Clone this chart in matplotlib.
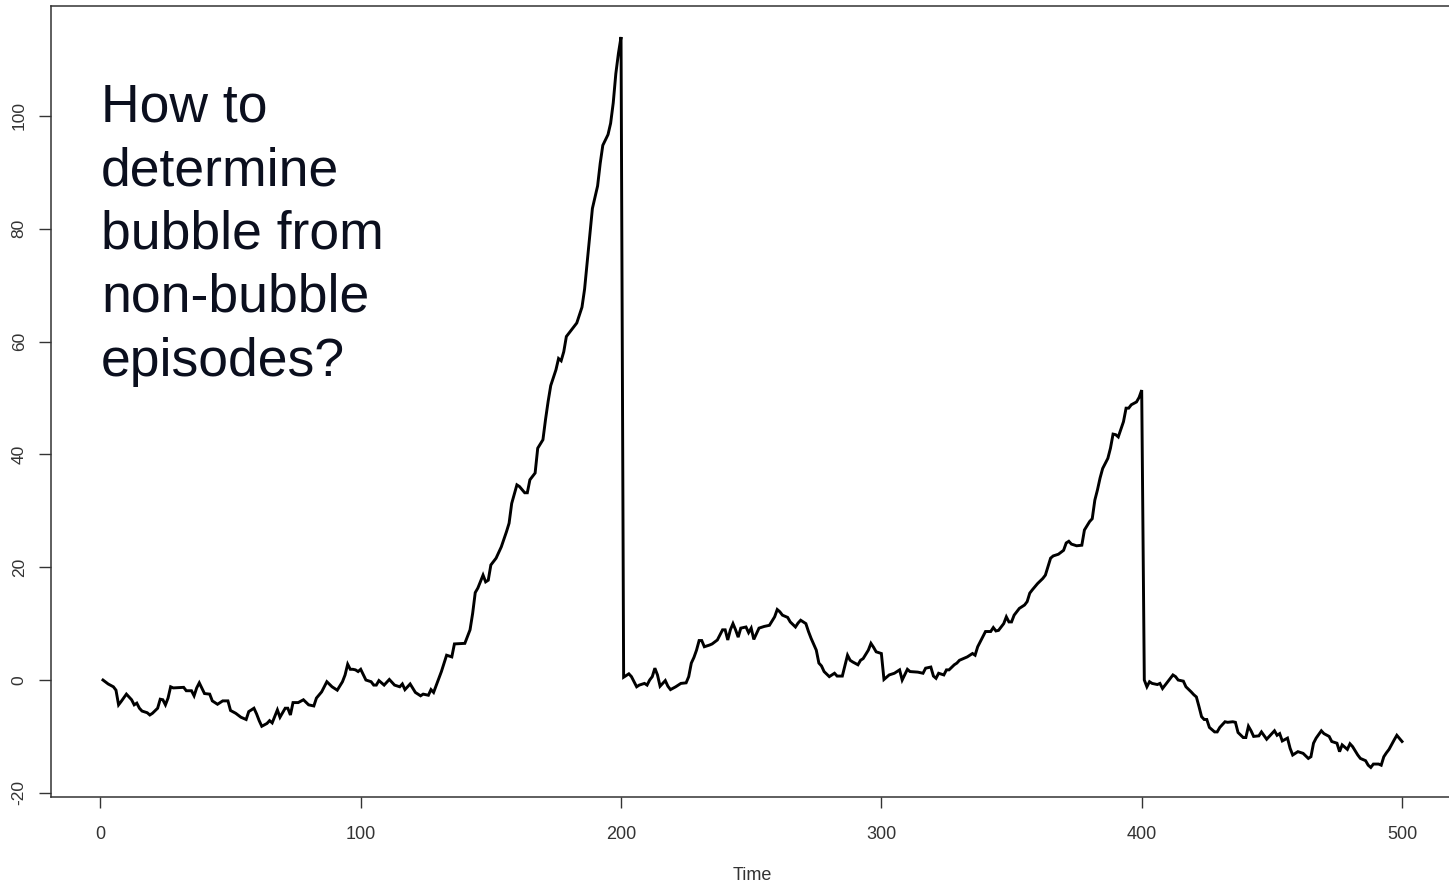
import matplotlib
matplotlib.use("Agg")
import matplotlib.pyplot as plt

plt.rcParams['font.family'] = ['Liberation Sans', 'DejaVu Sans']
plt.rcParams['axes.unicode_minus'] = False

# ---- data (time, value) ----
time = [1, 3, 5, 6, 7, 8, 10, 12, 13, 14, 15, 16, 18, 19, 20, 22, 23, 24, 25, 26,
        27, 28, 32, 33, 35, 36, 37, 38, 40, 42, 43, 45, 47, 49, 50, 52, 54, 56, 57, 59,
        60, 61, 62, 64, 65, 66, 68, 69, 71, 72, 73, 74, 76, 78, 80, 82, 83, 85, 87, 89,
        91, 93, 94, 95, 96, 97, 98, 99, 100, 102, 104, 105, 106, 107, 109, 111, 113, 115, 116, 117,
        119, 121, 123, 124, 126, 127, 128, 130, 131, 133, 135, 136, 140, 142, 143, 144, 145, 147, 148, 149,
        150, 152, 154, 156, 157, 158, 160, 161, 163, 164, 165, 167, 168, 170, 171, 172, 173, 175, 176, 177,
        178, 179, 181, 183, 185, 186, 187, 188, 189, 191, 192, 193, 195, 196, 197, 198, 199, 200, 201, 203,
        204, 206, 207, 209, 210, 211, 212, 213, 214, 215, 216, 217, 218, 219, 221, 222, 223, 225, 226, 227,
        228, 229, 230, 231, 232, 234, 235, 237, 238, 239, 240, 241, 242, 243, 244, 245, 246, 248, 249, 250,
        251, 253, 255, 257, 259, 260, 261, 262, 264, 265, 267, 268, 269, 271, 272, 273, 275, 276, 277, 278,
        280, 282, 283, 285, 287, 288, 289, 291, 292, 293, 295, 296, 297, 298, 300, 301, 303, 305, 306, 307,
        308, 310, 311, 314, 316, 317, 319, 320, 321, 322, 324, 325, 326, 328, 329, 330, 333, 335, 336, 337,
        339, 340, 342, 343, 344, 345, 347, 348, 349, 350, 351, 353, 355, 356, 357, 358, 360, 362, 363, 364,
        365, 366, 368, 370, 371, 372, 373, 375, 377, 378, 380, 381, 382, 383, 384, 385, 387, 388, 389, 390,
        391, 393, 394, 395, 396, 398, 399, 400, 401, 402, 403, 404, 406, 407, 408, 410, 412, 413, 414, 416,
        417, 419, 420, 421, 422, 423, 424, 425, 426, 428, 429, 430, 432, 433, 435, 436, 437, 439, 440, 441,
        442, 443, 445, 446, 448, 449, 451, 452, 453, 454, 456, 457, 458, 460, 462, 464, 465, 466, 467, 469,
        470, 472, 473, 475, 476, 477, 479, 480, 481, 483, 484, 486, 487, 488, 489, 491, 492, 493, 494, 495,
        497, 498, 500]

value = [0.0, -0.7, -1.2, -1.8, -4.4, -3.8, -2.5, -3.5, -4.4, -4.1, -5.0, -5.5, -5.8, -6.2, -5.9, -5.0, -3.4, -3.5, -4.4, -3.2,
         -1.2, -1.4, -1.3, -1.9, -1.9, -2.8, -1.4, -0.5, -2.4, -2.5, -3.7, -4.3, -3.7, -3.7, -5.4, -5.9, -6.6, -7.0, -5.6, -5.0,
         -6.0, -7.2, -8.2, -7.7, -7.2, -7.6, -5.3, -6.6, -5.0, -5.0, -6.2, -4.0, -4.0, -3.5, -4.4, -4.6, -3.2, -2.1, -0.3, -1.2,
         -1.8, -0.3, 0.9, 2.8, 1.9, 1.9, 1.8, 1.5, 1.9, 0.0, -0.3, -0.9, -0.9, -0.1, -0.9, 0.1, -0.9, -1.2, -0.7, -1.7,
         -0.7, -2.2, -2.8, -2.5, -2.7, -1.7, -2.2, 0.3, 1.5, 4.4, 4.1, 6.4, 6.5, 8.9, 11.8, 15.5, 16.3, 18.6, 17.4, 17.7,
         20.4, 21.6, 23.6, 26.3, 27.8, 31.3, 34.6, 34.3, 33.2, 33.2, 35.5, 36.7, 41.1, 42.6, 46.2, 49.4, 52.2, 55.0, 57.0, 56.6,
         58.2, 60.9, 62.1, 63.3, 66.1, 69.3, 74.1, 78.8, 83.6, 87.6, 91.6, 94.8, 96.7, 98.7, 102.3, 107.5, 111.1, 114.0, 0.5, 1.1,
         0.6, -1.2, -0.9, -0.6, -0.9, 0.0, 0.6, 2.1, 0.9, -1.1, -0.6, -0.1, -1.1, -1.7, -1.2, -0.9, -0.6, -0.5, 0.6, 3.0,
         4.0, 5.3, 7.0, 7.0, 5.9, 6.2, 6.4, 7.1, 8.0, 8.9, 8.9, 7.1, 8.9, 10.0, 8.9, 7.6, 9.2, 9.4, 8.4, 9.2,
         7.2, 9.2, 9.5, 9.7, 11.2, 12.5, 12.1, 11.5, 11.1, 10.3, 9.4, 10.1, 10.6, 10.0, 8.6, 7.4, 5.3, 3.0, 2.5, 1.5,
         0.6, 1.2, 0.7, 0.7, 4.4, 3.5, 3.2, 2.7, 3.5, 3.8, 5.3, 6.5, 5.8, 5.0, 4.7, 0.1, 0.9, 1.2, 1.5, 1.8,
         0.0, 1.9, 1.5, 1.4, 1.2, 2.1, 2.3, 0.7, 0.3, 1.2, 0.9, 1.8, 1.8, 2.7, 3.0, 3.5, 4.1, 4.7, 4.4, 5.9,
         7.7, 8.6, 8.6, 9.3, 8.7, 8.8, 10.0, 11.2, 10.3, 10.3, 11.5, 12.7, 13.3, 13.9, 15.4, 16.0, 17.1, 18.0, 18.6, 20.1,
         21.6, 22.0, 22.3, 23.0, 24.3, 24.6, 24.1, 23.8, 23.9, 26.6, 28.1, 28.6, 31.9, 33.7, 35.8, 37.5, 39.3, 41.1, 43.6, 43.5,
         43.1, 45.8, 48.2, 48.2, 48.8, 49.3, 50.1, 51.4, 0.0, -1.2, -0.3, -0.6, -0.8, -0.6, -1.5, -0.3, 0.9, 0.6, 0.0, -0.2,
         -1.2, -2.1, -2.6, -3.0, -4.7, -6.5, -7.0, -7.0, -8.4, -9.2, -9.2, -8.4, -7.4, -7.5, -7.4, -7.5, -9.3, -10.2, -10.2, -8.2,
         -9.0, -10.0, -9.9, -9.2, -10.5, -10.0, -9.0, -9.8, -9.5, -10.8, -10.3, -12.1, -13.3, -12.7, -13.0, -13.9, -13.6, -11.2, -10.3, -9.0,
         -9.5, -10.0, -10.9, -11.2, -12.7, -11.5, -12.3, -11.3, -11.8, -13.3, -13.9, -14.3, -15.1, -15.5, -14.9, -14.9, -15.1, -13.6, -12.9, -12.3,
         -10.6, -9.8, -10.9]

x_ticks = [0, 100, 200, 300, 400, 500]
y_ticks = [-20, 0, 20, 40, 60, 80, 100]
x_label = "Time"
annotation_lines = ["How to", "determine", "bubble from", "non-bubble", "episodes?"]

W, H = 1449, 886
fig = plt.figure(figsize=(W / 100, H / 100), dpi=100)
fig.patch.set_facecolor('white')

left_px, right_px, top_px, bottom_px = 51, 1454, 6, 797
ax = fig.add_axes([left_px / W, 1 - bottom_px / H,
                   (right_px - left_px) / W, (bottom_px - top_px) / H])

ax.plot(time, value, color='black', lw=2.1, solid_joinstyle='miter')

ax.set_xlim(-18.96, 519.96)
ax.set_ylim(-20.74, 119.5)
ax.set_xticks(x_ticks)
ax.set_yticks(y_ticks)

axis_col = '#333333'
for s in ax.spines.values():
    s.set_color(axis_col)
    s.set_linewidth(1.1)

ax.tick_params(axis='x', direction='out', length=8, width=1.0, color=axis_col,
               labelcolor=axis_col, labelsize=13, pad=13)
ax.tick_params(axis='y', direction='out', length=8.5, width=1.0, color=axis_col,
               labelcolor=axis_col, labelsize=12.5, pad=9)
for lab in ax.get_yticklabels():
    lab.set_rotation(90)
    lab.set_va('center')

fig.text(752 / W, 1 - 876 / H, x_label, ha='center', va='center',
         fontsize=13, color=axis_col)

baselines = [122, 185.5, 249, 312, 375.5]
for line, b in zip(annotation_lines, baselines):
    fig.text(101 / W, 1 - b / H, line, ha='left', va='baseline',
             fontsize=38.5, color='#0b0f1e')

fig.savefig('out.png', dpi=100, facecolor='white')
